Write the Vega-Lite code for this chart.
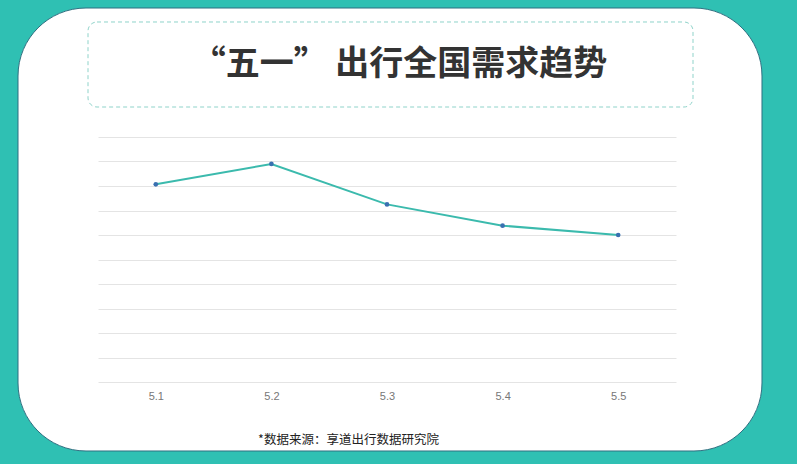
{
  "$schema": "https://vega.github.io/schema/vega-lite/v6.json",
  "width": 578,
  "height": 245,
  "autosize": {"type": "none"},
  "padding": {"left": 98, "top": 137, "right": 121, "bottom": 82},
  "background": "#ffffff",
  "config": {
    "view": {"stroke": null},
    "axisY": {"grid": true, "gridColor": "#e4e4e4", "gridWidth": 1, "labels": false, "ticks": false, "domain": false, "title": null}
  },
  "datasets": {
    "demand": [
      {"date": 5.1, "value": 8.07},
      {"date": 5.2, "value": 8.9},
      {"date": 5.3, "value": 7.25},
      {"date": 5.4, "value": 6.38},
      {"date": 5.5, "value": 6.0}
    ],
    "heading": [{"text": "“五一” 出行全国需求趋势"}]
  },
  "data": {"name": "demand"},
  "layer": [
    {
      "mark": {"type": "line", "color": "#3bbaad", "strokeWidth": 2},
      "encoding": {
        "x": {
          "field": "date",
          "type": "quantitative",
          "scale": {"domain": [5.05, 5.55], "nice": false, "zero": false},
          "axis": {
            "values": [5.1, 5.2, 5.3, 5.4, 5.5],
            "format": ".1f",
            "grid": false,
            "domain": false,
            "ticks": false,
            "labelFont": "Liberation Sans",
            "labelFontSize": 11,
            "labelColor": "#777777",
            "labelPadding": 8,
            "title": "*数据来源：享道出行数据研究院",
            "titleFont": "Noto Sans CJK SC",
            "titleFontSize": 12.5,
            "titleFontWeight": "normal",
            "titleColor": "#222222",
            "titleX": 250,
            "titleY": 57,
            "titleAlign": "center",
            "titleBaseline": "middle"
          }
        },
        "y": {
          "field": "value",
          "type": "quantitative",
          "scale": {"domain": [0, 10], "nice": false},
          "axis": {"values": [0, 1, 2, 3, 4, 5, 6, 7, 8, 9, 10], "title": null}
        }
      }
    },
    {
      "mark": {"type": "point", "filled": true, "size": 22, "color": "#3a70b0", "opacity": 1},
      "encoding": {
        "x": {"field": "date", "type": "quantitative"},
        "y": {"field": "value", "type": "quantitative", "axis": {"values": [0, 1, 2, 3, 4, 5, 6, 7, 8, 9, 10], "title": null}}
      }
    },
    {
      "data": {"values": [{}]},
      "mark": {"type": "rect", "fill": null, "stroke": "#2fc0b3", "strokeWidth": 120, "cornerRadius": 128, "clip": false},
      "encoding": {
        "x": {"datum": 4.92889, "type": "quantitative"},
        "x2": {"datum": 5.6763},
        "y": {"datum": 17.714, "type": "quantitative", "axis": {"values": [0, 1, 2, 3, 4, 5, 6, 7, 8, 9, 10], "title": null}},
        "y2": {"datum": -5.265}
      }
    },
    {
      "data": {"values": [{}]},
      "mark": {"type": "rect", "fill": null, "stroke": "#2e6f80", "strokeWidth": 1, "cornerRadius": 68, "clip": false},
      "encoding": {
        "x": {"datum": 4.9808, "type": "quantitative"},
        "x2": {"datum": 5.62439},
        "y": {"datum": 15.2653, "type": "quantitative", "axis": {"values": [0, 1, 2, 3, 4, 5, 6, 7, 8, 9, 10], "title": null}},
        "y2": {"datum": -2.8163}
      }
    },
    {
      "data": {"values": [{}]},
      "mark": {"type": "rect", "fill": null, "stroke": "#8fd3ca", "strokeWidth": 1, "strokeDash": [4, 3], "cornerRadius": 9, "clip": false},
      "encoding": {
        "x": {"datum": 5.04135, "type": "quantitative"},
        "x2": {"datum": 5.56471},
        "y": {"datum": 14.694, "type": "quantitative", "axis": {"values": [0, 1, 2, 3, 4, 5, 6, 7, 8, 9, 10], "title": null}},
        "y2": {"datum": 11.224}
      }
    },
    {
      "data": {"name": "heading"},
      "mark": {"type": "text", "font": "Noto Sans CJK SC", "fontSize": 34, "fontWeight": "bold", "color": "#333333", "align": "center", "baseline": "alphabetic", "clip": false},
      "encoding": {
        "text": {"field": "text"},
        "x": {"datum": 5.31081, "type": "quantitative"},
        "y": {"datum": 12.547, "type": "quantitative", "axis": {"values": [0, 1, 2, 3, 4, 5, 6, 7, 8, 9, 10], "title": null}}
      }
    }
  ]
}
